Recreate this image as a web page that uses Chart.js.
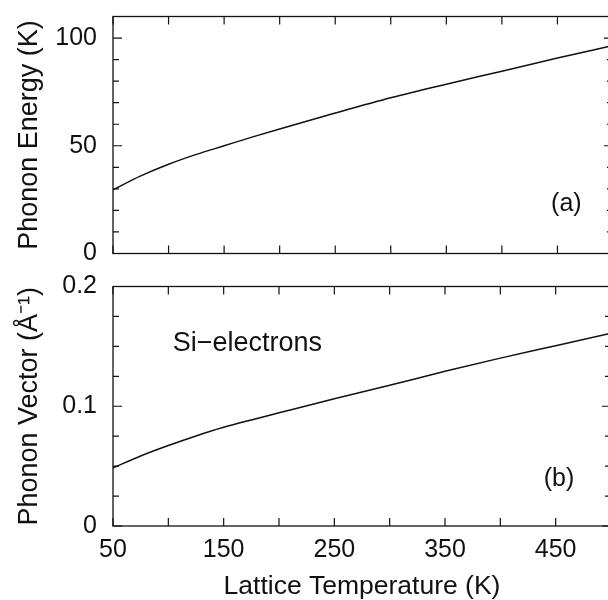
<!DOCTYPE html>
<html>
<head>
<meta charset="utf-8">
<script src="https://cdn.jsdelivr.net/npm/chart.js"></script>
<style>
  body { margin: 0; width: 608px; height: 600px; overflow: hidden; background: #fff; }
  canvas { position: absolute; left: 0; }
</style>
</head>
<body>
<canvas id="energyChart" width="620" height="270" style="top:0px"></canvas>
<canvas id="vectorChart" width="620" height="330" style="top:270px"></canvas>
<script>
// lattice temperature (K)
var temps = [50, 75, 100, 125, 150, 175, 200, 250, 300, 350, 400, 450, 500];
// panel (a): phonon energy (K)
var energy = [29.6, 36.0, 41.4, 46.0, 50.0, 54.0, 57.8, 65.2, 72.3, 78.6, 84.6, 90.7, 96.5];
// panel (b): phonon vector (1/Angstrom)
var vector = [0.0485, 0.0585, 0.0672, 0.0752, 0.0824, 0.0886, 0.0945, 0.1062, 0.1175, 0.1292, 0.1402, 0.1506, 0.161];

var xLabels = [50, 150, 250, 350, 450];
var energyLabels = [0, 50, 100];
var vectorLabels = [0, 0.1, 0.2];

var ink = '#111';
var fam = '"Liberation Sans", Arial, Helvetica, sans-serif';

function pts(ys) {
  return temps.map(function (t, i) { return {x: t, y: ys[i]}; });
}

// frame plus inward tick marks on all four sides, plus panel notes
var framePlugin = {
  id: 'frame',
  afterDraw: function (chart) {
    var ctx = chart.ctx, a = chart.chartArea;
    var xs = chart.scales.x, ys = chart.scales.y;
    ctx.save();
    ctx.strokeStyle = ink;
    ctx.lineWidth = 1.3;
    ctx.strokeRect(a.left, a.top, a.right - a.left, a.bottom - a.top);
    ctx.lineWidth = 1.2;
    ctx.beginPath();
    xs.ticks.forEach(function (t) {
      var px = xs.getPixelForValue(t.value);
      ctx.moveTo(px, a.bottom); ctx.lineTo(px, a.bottom - 8);
      ctx.moveTo(px, a.top); ctx.lineTo(px, a.top + 8);
    });
    ys.ticks.forEach(function (t) {
      var py = ys.getPixelForValue(t.value);
      var len = t.label !== '' ? 9 : 6;
      ctx.moveTo(a.left, py); ctx.lineTo(a.left + len, py);
      ctx.moveTo(a.right, py); ctx.lineTo(a.right - len, py);
    });
    ctx.stroke();
    var notes = chart.options.plugins.frame.notes || [];
    ctx.fillStyle = ink;
    ctx.textBaseline = 'middle';
    notes.forEach(function (n) {
      ctx.font = n.size + 'px ' + fam;
      ctx.textAlign = n.align;
      ctx.fillText(n.text, xs.getPixelForValue(n.x), ys.getPixelForValue(n.y));
    });
    ctx.restore();
  }
};

function makeChart(id, ys, opts) {
  return new Chart(document.getElementById(id), {
    type: 'line',
    data: {
      datasets: [{
        data: pts(ys),
        borderColor: ink,
        borderWidth: 1.5,
        pointRadius: 0,
        cubicInterpolationMode: 'monotone',
        fill: false
      }]
    },
    options: {
      responsive: false,
      animation: false,
      devicePixelRatio: 1,
      layout: {padding: {left: 0, right: 7, top: opts.top, bottom: 0}},
      plugins: {legend: {display: false}, tooltip: {enabled: false}, frame: {notes: opts.notes}},
      scales: {
        x: {
          type: 'linear', min: 50, max: 500,
          grid: {display: false, drawTicks: false},
          border: {display: false},
          ticks: {
            display: opts.showX, stepSize: 50, autoSkip: false, maxRotation: 0,
            color: ink, padding: 9,
            font: {family: fam, size: 25, lineHeight: 1.2},
            callback: function (v) { return xLabels.indexOf(v) >= 0 ? String(v) : ''; }
          },
          title: {
            display: opts.showX, text: 'Lattice Temperature (K)', color: ink,
            font: {family: fam, size: 26.5, lineHeight: 1}, padding: {top: 0, bottom: 0}
          },
          afterFit: function (s) { s.height = opts.xh; }
        },
        y: {
          min: 0, max: opts.ymax,
          grid: {display: false, drawTicks: false},
          border: {display: false},
          ticks: {
            stepSize: opts.step, autoSkip: false, color: ink, padding: 16,
            font: {family: fam, size: 25, lineHeight: 0.04},
            callback: function (v) {
              for (var i = 0; i < opts.labels.length; i++) {
                if (Math.abs(opts.labels[i] - v) < 1e-9) return String(opts.labels[i]);
              }
              return '';
            }
          },
          title: {
            display: true, text: opts.ytitle, color: ink,
            font: {family: fam, size: 27, lineHeight: 1}, padding: {top: 16.5, bottom: 0}
          },
          afterFit: function (s) { s.width = 113; }
        }
      }
    },
    plugins: [framePlugin]
  });
}

makeChart('energyChart', energy, {
  top: 10, xh: 15, showX: false, ymax: 110, step: 10, labels: energyLabels,
  ytitle: 'Phonon Energy (K)',
  notes: [{text: '(a)', x: 458, y: 22.9, size: 25, align: 'center'}]
});

makeChart('vectorChart', vector, {
  top: 15, xh: 74, showX: true, ymax: 0.2, step: 0.025, labels: vectorLabels,
  ytitle: 'Phonon Vector (Å⁻¹)',
  notes: [
    {text: '(b)', x: 453, y: 0.039, size: 25, align: 'center'},
    {text: 'Si\u2212electrons', x: 104, y: 0.152, size: 27, align: 'left'}
  ]
});
</script>
</body>
</html>
